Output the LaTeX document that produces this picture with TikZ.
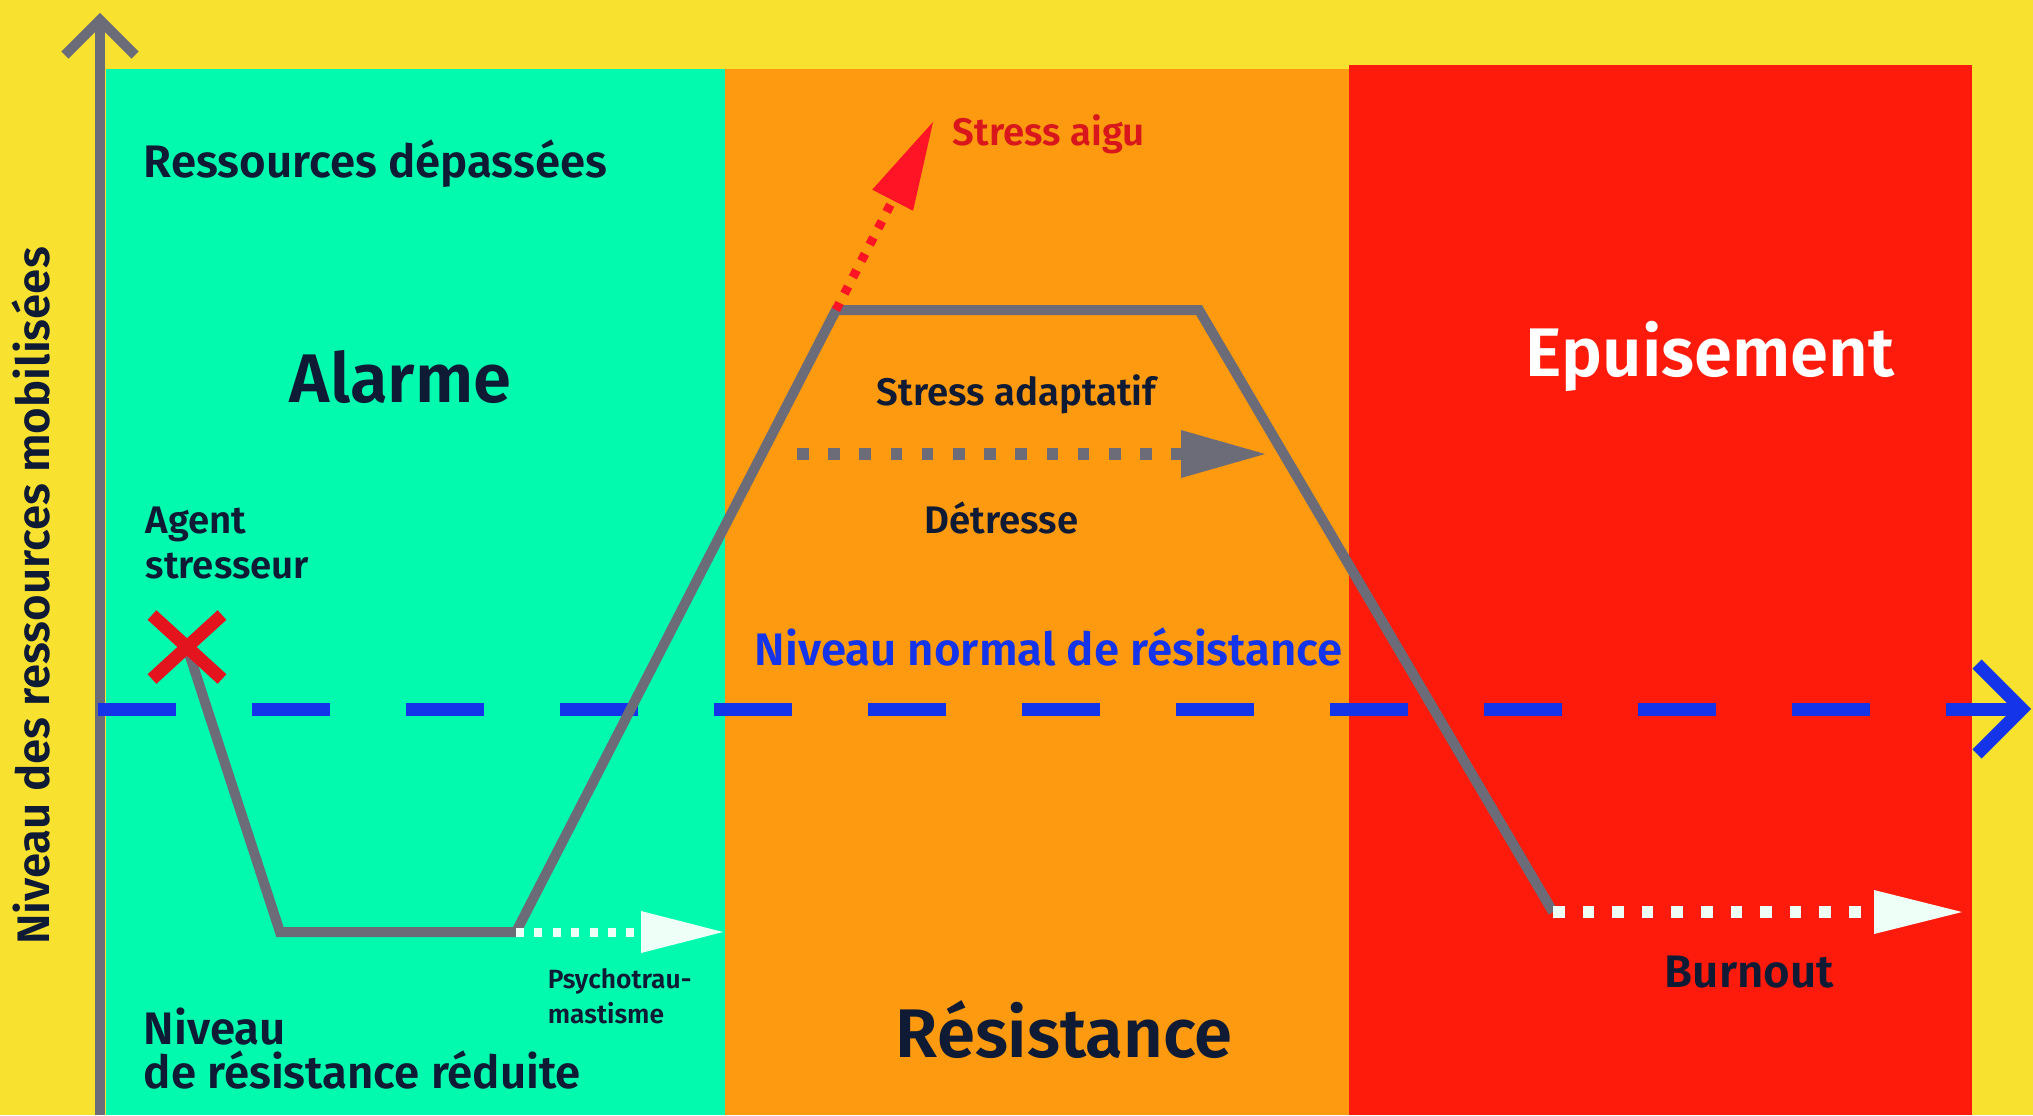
\documentclass[tikz,border=0pt]{standalone}
\usepackage{fontspec}
\setmainfont{Fira Sans}[BoldFont={Fira Sans SemiBold}]
\usetikzlibrary{arrows.meta,shapes.misc}

\definecolor{bgyellow}{HTML}{F8E22F}
\definecolor{alarmgreen}{HTML}{02FAAF}
\definecolor{resorange}{HTML}{FD9A0F}
\definecolor{exhred}{HTML}{FE1B0B}
\definecolor{curvegray}{HTML}{6C6C78}
\definecolor{levelblue}{HTML}{1434EA}
\definecolor{ink}{HTML}{0F1B34}
\definecolor{crossred}{HTML}{E4141E}
\definecolor{acutered}{HTML}{FF1426}
\definecolor{aigutext}{HTML}{D8161C}
\definecolor{paleflow}{HTML}{EEFFF8}

\begin{document}
\begin{tikzpicture}[x=0.25pt,y=-0.25pt,
  txt/.style={inner sep=0pt, anchor=base west, text=ink,
    font=\bfseries\fontsize{11.4}{13}\selectfont},
  bigtxt/.style={txt, font=\bfseries\fontsize{17.2}{20}\selectfont},
  smalltxt/.style={txt, font=\bfseries\fontsize{9.6}{11}\selectfont},
  tinytxt/.style={txt, font=\bfseries\fontsize{6.6}{8}\selectfont},
  curve/.style={draw=curvegray, line width=2.5pt, line join=miter},
  axisline/.style={draw=curvegray, line width=2.5pt, line join=miter},
  level/.style={draw=levelblue, line width=3.25pt},
  flow/.style={line cap=butt}
]

% background and the three phases
\fill[bgyellow] (0,0) rectangle (2033,1115);
\useasboundingbox (0,0) rectangle (2033,1115);
\fill[alarmgreen] (106,69) rectangle (725,1115);
\fill[resorange] (725,69) rectangle (1349,1115);
\fill[exhred] (1349,65) rectangle (1972,1115);

% vertical axis
\coordinate (ybot) at (100,1115);
\coordinate (ytop) at (100,20);
\draw[axisline] (ybot) -- (ytop);
\draw[axisline] (65,55) -- (ytop) -- (135,55);

% normal resistance level
\coordinate (lv0) at (98,709);
\coordinate (lv1) at (2022,709);
\draw[level, dash pattern=on 19.5pt off 19pt] (lv0) -- (lv1);
\draw[level, line join=miter] (1977,664) -- (lv1) -- (1977,754);

% resistance curve
\coordinate (agentpt) at (187,647);
\coordinate (p1) at (280,932);
\coordinate (p2) at (516,932);
\coordinate (p3) at (836,310);
\coordinate (p4) at (1199,310);
\coordinate (p5) at (1553,912);
\draw[curve] (agentpt) -- (p1) -- (p2) -- (p3) -- (p4) -- (p5);

% stressor mark
\node[cross out, draw=crossred, line width=3.25pt, minimum width=17.5pt,
      minimum height=16pt, inner sep=0pt, outer sep=0pt] (xmark) at (agentpt) {};

% outcome arrows
\coordinate (psyend) at (723,932);
\draw[flow, draw=paleflow, line width=2.25pt, dash pattern=on 2pt off 2.6pt,
  -{Triangle[length=20.5pt,width=10.5pt,line width=0pt]}] (p2) -- (psyend);

\coordinate (aiguend) at (933,122);
\draw[flow, draw=acutered, line width=2.25pt, dash pattern=on 2pt off 2.6pt,
  -{Triangle[length=22pt,width=11.5pt,line width=0pt]}] (p3) -- (aiguend);

\coordinate (g0) at (797,454);
\coordinate (g1) at (1265,454);
\draw[flow, draw=curvegray, line width=2.9pt, dash pattern=on 2.9pt off 4.9pt,
  -{Triangle[length=21pt,width=12pt,line width=0pt]}] (g0) -- (g1);

\coordinate (bend) at (1962,912);
\draw[flow, draw=paleflow, line width=2.9pt, dash pattern=on 2.9pt off 4.5pt,
  -{Triangle[length=22pt,width=11pt,line width=0pt]}] (p5) -- (bend);

% labels
\node[txt] (ressources) at (143,177) {Ressources dépassées};
\node[bigtxt] (alarme) at (289,402) {Alarme};
\node[smalltxt] (agent1) at (145,533) {Agent};
\node[smalltxt] (agent2) at (145,578) {stresseur};
\node[txt] (niv1) at (143,1044) {Niveau};
\node[txt] (niv2) at (143,1088) {de résistance réduite};
\node[tinytxt] (psy1) at (547,988) {Psychotrau-};
\node[tinytxt] (psy2) at (547,1023) {mastisme};
\node[smalltxt, text=aigutext] (aigu) at (952,145) {Stress aigu};
\node[smalltxt] (adapt) at (876,405) {Stress adaptatif};
\node[smalltxt] (detresse) at (924,533) {Détresse};
\node[txt, text=levelblue] (normal) at (754,665) {Niveau normal de résistance};
\node[bigtxt] (resistance) at (895,1057) {Résistance};
\node[bigtxt, text=white] (epuisement) at (1525,376) {Epuisement};
\node[txt] (burnout) at (1664,987) {Burnout};
\node[txt, anchor=base, rotate=90] (yaxis) at (50,596) {Niveau des ressources mobilisées};

\end{tikzpicture}
\end{document}
